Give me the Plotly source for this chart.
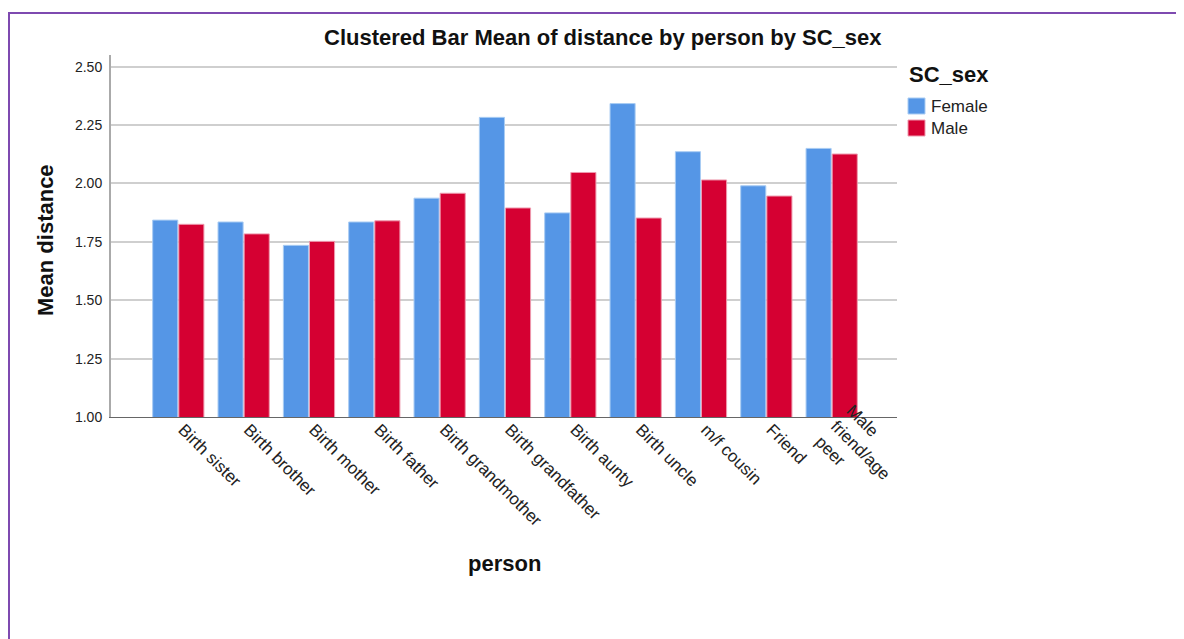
import plotly.graph_objects as go

categories = ["Birth sister", "Birth brother", "Birth mother", "Birth father",
              "Birth grandmother", "Birth grandfather", "Birth aunty", "Birth uncle",
              "m/f cousin", "Friend", "Male<br>friend/age<br>peer"]
female = [1.843, 1.835, 1.735, 1.835, 1.937, 2.283, 1.874, 2.342, 2.136, 1.990, 2.150]
male = [1.825, 1.784, 1.752, 1.840, 1.958, 1.895, 2.047, 1.852, 2.015, 1.946, 2.126]
series_names = ["Female", "Male"]
colors = ["#5596E6", "#D50032"]
edge_colors = ["#A9CCF3", "#EE9AAE"]

FONT = "Liberation Sans, Arial, sans-serif"

# plot area in figure pixels (page body has an 8px offset)
L, R, T, B = 103, 889, 47, 409
W, H = 1184, 639


def px(x):
    return (x - L) / (R - L)


def py(y):
    return (B - y) / (B - T)


fig = go.Figure()
for name, vals, c, ec in zip(series_names, [female, male], colors, edge_colors):
    fig.add_trace(go.Bar(x=categories, y=vals, name=name,
                         marker=dict(color=c, line=dict(color=ec, width=1))))

# single-line labels as axis ticks; the 3-line label is drawn as a rotated annotation
tick_text = [c if "<br>" not in c else "" for c in categories]

annotations = [
    dict(text="<b>Clustered Bar Mean of distance by person by SC_sex</b>",
         x=px(595), y=py(30), xref="paper", yref="paper", xanchor="center", yanchor="middle",
         showarrow=False, font=dict(size=22, family=FONT, color="#111")),
    dict(text="<b>person</b>", x=px(496), y=py(555), xref="paper", yref="paper",
         xanchor="center", yanchor="middle",
         showarrow=False, font=dict(size=22, family=FONT, color="#111")),
    dict(text="<b>Mean distance</b>", x=px(37), y=py(232), xref="paper", yref="paper",
         xanchor="center", yanchor="middle",
         showarrow=False, textangle=-90, font=dict(size=22, family=FONT, color="#111")),
    dict(text="<b>SC_sex</b>", x=px(899), y=py(67), xref="paper", yref="paper",
         xanchor="left", yanchor="middle",
         showarrow=False, font=dict(size=22, family=FONT, color="#111")),
]
for c in categories:
    if "<br>" in c:
        annotations.append(dict(text=c, x=px(853), y=py(442), xref="paper", yref="paper",
                                xanchor="center", yanchor="middle", align="left",
                                textangle=45, showarrow=False,
                                font=dict(size=17, family=FONT, color="#222")))

shapes = [dict(type="rect", xref="paper", yref="paper",
               x0=px(1), y0=py(700), x1=px(1230), y1=py(5),
               line=dict(color="#7E4AB0", width=2), fillcolor="rgba(0,0,0,0)", layer="below")]

for i, (name, c, ec) in enumerate(zip(series_names, colors, edge_colors)):
    top = 90 + i * 22
    shapes.append(dict(type="rect", xref="paper", yref="paper",
                       x0=px(900), x1=px(917), y0=py(top + 16), y1=py(top),
                       fillcolor=c, line=dict(color=ec, width=1)))
    annotations.append(dict(text=name, x=px(921), y=py(top + 8.5), xref="paper", yref="paper",
                            xanchor="left", yanchor="middle", showarrow=False,
                            font=dict(size=17, family=FONT, color="#222")))

fig.update_layout(
    width=W, height=H,
    margin=dict(l=L, r=W - R, t=T, b=H - B),
    paper_bgcolor="white", plot_bgcolor="white",
    font=dict(family=FONT, color="#222"),
    barmode="group", bargap=0.2, bargroupgap=0.04,
    showlegend=False,
    xaxis=dict(type="category", range=[-1.03, 11.0], tickangle=45,
               tickmode="array", tickvals=categories, ticktext=tick_text,
               tickfont=dict(size=17, family=FONT, color="#222"),
               ticklabelshift=5, ticklabelstandoff=-5,
               showline=True, linecolor="#666", linewidth=1, ticks="",
               showgrid=False, zeroline=False),
    yaxis=dict(range=[1.0, 2.55], tickvals=[1.0, 1.25, 1.5, 1.75, 2.0, 2.25, 2.5],
               ticktext=["1.00", "1.25", "1.50", "1.75", "2.00", "2.25", "2.50"],
               tickfont=dict(size=14, family=FONT, color="#222"),
               ticklabelstandoff=4,
               showline=True, linecolor="#aaa", linewidth=2, ticks="",
               showgrid=True, gridcolor="#cfcfcf", gridwidth=1.5, zeroline=False),
    annotations=annotations,
    shapes=shapes,
)

fig.write_html("out.html")
